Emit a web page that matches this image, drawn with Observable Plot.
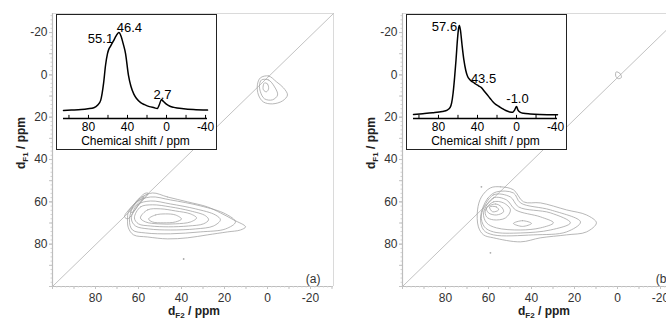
<!DOCTYPE html>
<html><head><meta charset="utf-8">
<script src="https://cdn.jsdelivr.net/npm/d3@7"></script>
<script src="https://cdn.jsdelivr.net/npm/@observablehq/plot@0.6"></script>
<style>
body{margin:0;background:#fff;}
#wrap{position:relative;width:666px;height:320px;overflow:hidden;background:#fff;}
.panel{position:absolute;top:0;}
.inset{position:absolute;top:14px;border:1px solid #222;background:#fff;}
</style></head><body><div id="wrap"></div>
<script>
// ---------- data ----------
const xTicks = [80, 60, 40, 20, 0, -20];
const yTicks = [-20, 0, 20, 40, 60, 80];
const insetTickLabels = [80, 40, 0, -40];
const insetMinorTicks = [100, 80, 60, 40, 20, 0, -20, -40];
const panelTags = ["(a)", "(b)"];
const insetTitle = "Chemical shift / ppm";

// 1D spectrum (a)
const specA_ppm = [105.6,97.5,87.5,80.5,74.5,70.5,67.5,66,64.5,62.5,60.5,59,57.6,54.5,51.5,48.9,46.5,44.5,42,39,36.5,33.5,30.5,26.5,22.5,17.5,12.5,9.5,7.5,5.2,3.5,0.5,-3.5,-7.5,-17.5,-27.5,-42];
const specA_int = [0,0.005,0.012,0.022,0.035,0.07,0.13,0.22,0.35,0.58,0.73,0.79,0.82,0.89,0.96,1.0,0.95,0.86,0.73,0.45,0.31,0.21,0.15,0.10,0.075,0.05,0.035,0.025,0.07,0.14,0.12,0.085,0.055,0.04,0.022,0.012,0.005];
const peakLabelsA = ["55.1", "46.4", "2.7"];
const peakLabelA_ppm = [67.7, 38, 4.1];
const peakLabelA_int = [0.92, 1.06, 0.205];

// 1D spectrum (b)
const specB_ppm = [105.6,96,86,76,71,68,66.5,65,63.5,62,60.5,59.5,58.6,57.5,56,54,52,50,48,46,44.5,42,39,36,33,30,27,24,21,18,15,11,7,4,2,0,-1.5,-4,-7,-14,-24,-42];
const specB_int = [0.012,0.02,0.03,0.045,0.06,0.09,0.14,0.25,0.42,0.62,0.85,0.96,1.0,0.95,0.8,0.62,0.5,0.43,0.4,0.38,0.37,0.35,0.33,0.31,0.27,0.23,0.19,0.15,0.12,0.1,0.08,0.055,0.04,0.035,0.06,0.1,0.06,0.035,0.025,0.018,0.012,0.008];
const peakLabelsB = ["57.6", "43.5", "-1.0"];
const peakLabelB_ppm = [73.8, 33.8, -1.0];
const peakLabelB_int = [0.99, 0.41, 0.18];

// 2D contour rings (dF2 ppm, dF1 ppm)
const contoursA = [
  [[53.5,55.8],[46.5,57.7],[37.2,60.0],[27.9,62.4],[21.9,65.2],[15.8,68.5],[10.2,71.8],[12.6,73.3],[18.6,74.2],[27.9,75.6],[37.2,77.0],[46.5,77.5],[55.8,76.6],[62.3,75.6],[64.7,72.3],[65.1,68.5],[64.7,64.7],[62.3,61.4],[59.1,58.1]],
  [[64.2,68.5],[61.4,60.5],[54.4,57.7],[45.1,59.1],[31.2,61.9],[19.5,65.7],[14.9,69.5],[19.5,72.8],[31.2,74.2],[45.1,75.1],[56.7,74.7],[62.8,73.3]],
  [[63.3,68.1],[60.5,61.4],[54.4,59.6],[45.1,61.0],[33.5,63.3],[24.2,66.2],[21.9,68.5],[25.1,71.4],[33.5,72.8],[45.1,73.3],[55.3,72.8],[61.4,71.4]],
  [[61.9,67.6],[59.1,62.4],[53.5,61.4],[45.1,62.4],[35.8,64.3],[28.8,66.6],[27.4,68.5],[29.8,70.4],[36.7,71.4],[46.0,71.8],[54.4,71.4],[60.0,70.4]],
  [[59.1,67.6],[55.8,63.8],[49.8,63.3],[42.8,64.3],[35.8,65.7],[33.0,67.6],[35.8,69.5],[42.8,70.4],[50.7,70.4],[56.7,69.5]],
  [[55.3,68.1],[52.1,66.2],[47.4,65.7],[42.8,66.2],[40.0,68.1],[42.8,69.5],[48.4,69.9],[53.5,69.5]],
  [[66.5,67],[62,61],[57,56],[55.5,56],[60,61.5],[65,68]],
  [[64,64.5],[60,59.5],[57.5,57.5],[59,60],[63,65]],
  [[3.3,1.4],[-0.5,0.5],[-4.2,3.3],[-7.4,6.1],[-9.3,9.5],[-7.0,12.3],[-2.3,13.7],[1.9,12.8],[4.2,9.5],[4.7,4.7]],
  [[2.8,2.4],[-0.5,2.4],[-3.3,5.7],[-4.7,9.5],[-2.3,11.8],[1.4,11.3],[3.3,8.0],[3.7,4.7]],
  [[1.4,3.8],[0,4.3],[-0.5,6.6],[0.5,8.0],[1.9,7.1],[1.9,4.7]]
];
const specksA = [[39, 87]];

const contoursB = [
  [[59.1,53.4],[54.4,52.9],[48.4,54.3],[43.7,60.0],[35.8,60.5],[23.7,63.8],[14.4,66.2],[9.8,69.9],[14.4,74.2],[23.7,75.6],[35.8,77.0],[45.1,78.9],[57.7,77.0],[62.3,75.6],[64.7,71.8],[65.1,63.8],[63.3,57.7]],
  [[63.7,67.1],[60.5,58.5],[56.3,55.3],[48.4,55.8],[45.1,60.5],[31.2,63.8],[17.2,69.5],[23.7,74.2],[39.1,75.6],[57.7,75.6],[62.3,73.3]],
  [[63.3,66.2],[57.7,56.7],[49.8,57.7],[46.0,62.4],[31.2,65.2],[21.9,69.9],[31.2,73.3],[45.1,74.7],[57.7,74.2],[61.9,71.8]],
  [[62.3,65.2],[57.7,58.1],[51.6,59.1],[47.4,63.8],[35.8,67.1],[29.8,69.9],[35.8,72.3],[45.1,73.3],[56.3,72.3],[60.9,69.9]],
  [[61.4,63.8],[57.7,60.0],[53.0,60.5],[49.8,63.8],[52.1,67.6],[57.7,68.5],[60.9,67.1]],
  [[60.9,62.9],[56.7,61.0],[54.0,62.4],[53.0,64.7],[56.3,66.2],[60.0,65.2]],
  [[59.5,62.4],[56.3,62.4],[55.3,63.8],[58.1,64.7]],
  [[48.4,70.2],[44.2,68.9],[40.0,70.2],[44.2,71.6]],
  [[0.6,-1.4],[-1.2,-0.6],[-1.8,1.2],[-0.4,1.8],[0.8,0.6]]
];
const specksB = [[63.3, 52.9], [59.1, 84.1]];

// ---------- drawing ----------
const FONT = "'Liberation Sans', Arial, sans-serif";
const fmt = d => String(d);
const xDomain = [100, -30.7];
const yDomain = [-29, 100];
const fineX = d3.range(100, -31, -2);
const fineY = d3.range(-28, 101, 2);
const minorX = d3.range(100, -31, -10);
const minorY = d3.range(-20, 101, 10);

function mainPanel(rings, specks, tag) {
  const rows = rings.flatMap((r, k) => r.map(([x, y]) => ({x, y, k})));
  const diag = [{x: xDomain[0], y: yDomain[1]}, {x: xDomain[1], y: yDomain[0]}];
  const svg = Plot.plot({
    width: 340, height: 320,
    marginLeft: 52, marginRight: 7, marginTop: 13, marginBottom: 34,
    x: {domain: xDomain, label: null},
    y: {domain: yDomain, reverse: true, label: null},
    style: {fontFamily: FONT, fontSize: "12px", color: "#333", background: "transparent", overflow: "visible"},
    marks: [
      Plot.ruleY([yDomain[0]], {stroke: "#dadada"}),
      Plot.ruleX([xDomain[1]], {stroke: "#dadada"}),
      Plot.line(diag, {x: "x", y: "y", stroke: "#c2c2c2", strokeWidth: 1}),
      Plot.line(rows, {x: "x", y: "y", z: "k", curve: "catmull-rom-closed", stroke: "#9f9f9f", strokeWidth: 0.75}),
      Plot.dot(specks, {x: d => d[0], y: d => d[1], r: 0.9, fill: "#aaa", stroke: null}),
      Plot.ruleY([yDomain[1]], {stroke: "#bdbdbd", strokeWidth: 1.2}),
      Plot.ruleX([xDomain[0]], {stroke: "#bdbdbd", strokeWidth: 1.2}),
      Plot.axisX(fineX, {tickSize: 1.5, tickFormat: () => "", stroke: "#d2d2d2", label: null}),
      Plot.axisY(fineY, {tickSize: 1.5, tickFormat: () => "", stroke: "#d2d2d2", label: null}),
      Plot.axisX(minorX, {tickSize: 3, tickFormat: () => "", stroke: "#c4c4c4", label: null}),
      Plot.axisY(minorY, {tickSize: 3, tickFormat: () => "", stroke: "#c4c4c4", label: null}),
      Plot.axisX(xTicks, {tickSize: 3, tickPadding: 4, tickFormat: fmt, stroke: "#c4c4c4", fill: "#333", label: null}),
      Plot.axisY(yTicks, {tickSize: 3, tickPadding: 2, tickFormat: fmt, stroke: "#c4c4c4", fill: "#333", label: null}),
      Plot.text([tag], {text: d => d, frameAnchor: "bottom-right", dx: -13, dy: -4, textAnchor: "end", lineAnchor: "bottom", fill: "#333"})
    ]
  });
  const s = d3.select(svg);
  const xl = s.append("text").attr("x", 194).attr("y", 315).attr("text-anchor", "middle")
    .attr("font-weight", "bold").attr("font-size", 12).attr("fill", "#222");
  xl.append("tspan").text("d");
  xl.append("tspan").attr("font-size", 8).attr("dy", 3).text("F2");
  xl.append("tspan").attr("dy", -3).text(" / ppm");
  const yl = s.append("text").attr("transform", "translate(25,143) rotate(-90)").attr("text-anchor", "middle")
    .attr("font-weight", "bold").attr("font-size", 12).attr("fill", "#222");
  yl.append("tspan").text("d");
  yl.append("tspan").attr("font-size", 8).attr("dy", 3).text("F1");
  yl.append("tspan").attr("dy", -3).text(" / ppm");
  return svg;
}

function insetPanel(ppm, inten, lt, lp, li, yDom, mTop, tickH) {
  const rows = ppm.map((p, i) => ({p, v: inten[i]}));
  const labs = lt.map((t, i) => ({t, x: lp[i], y: li[i]}));
  return Plot.plot({
    width: 159, height: 134,
    marginLeft: 6, marginRight: 9, marginTop: mTop, marginBottom: 31,
    x: {domain: [105.6, -42], label: null},
    y: {domain: yDom, axis: null, label: null},
    style: {fontFamily: FONT, fontSize: "12px", color: "#000", background: "#fff", overflow: "visible"},
    marks: [
      Plot.ruleY([yDom[0]], {stroke: "#000", strokeWidth: 1.3}),
      Plot.ruleX(insetMinorTicks, {x: d => d, y1: yDom[0], y2: yDom[0] + tickH, stroke: "#000"}),
      Plot.axisX(insetTickLabels, {tickSize: 0, tickPadding: 4, tickFormat: fmt, fill: "#000", label: null}),
      Plot.line(rows, {x: "p", y: "v", curve: "monotone-x", stroke: "#000", strokeWidth: 1.5}),
      Plot.text(labs, {x: "x", y: "y", text: "t", fontSize: 13, fill: "#000"}),
      Plot.text([insetTitle], {text: d => d, frameAnchor: "bottom", dy: 26, fill: "#000"})
    ]
  });
}

const wrap = document.getElementById("wrap");
function place(el, cls, left) {
  el.classList.add(cls);
  el.style.left = left + "px";
  wrap.appendChild(el);
}
place(mainPanel(contoursA, specksA, panelTags[0]), "panel", 0);
place(mainPanel(contoursB, specksB, panelTags[1]), "panel", 350);
place(insetPanel(specA_ppm, specA_int, peakLabelsA, peakLabelA_ppm, peakLabelA_int, [-0.1026, 1], 17, 0.04), "inset", 56);
place(insetPanel(specB_ppm, specB_int, peakLabelsB, peakLabelB_ppm, peakLabelB_int, [-0.0333, 1], 10, 0.035), "inset", 406);
</script></body></html>
